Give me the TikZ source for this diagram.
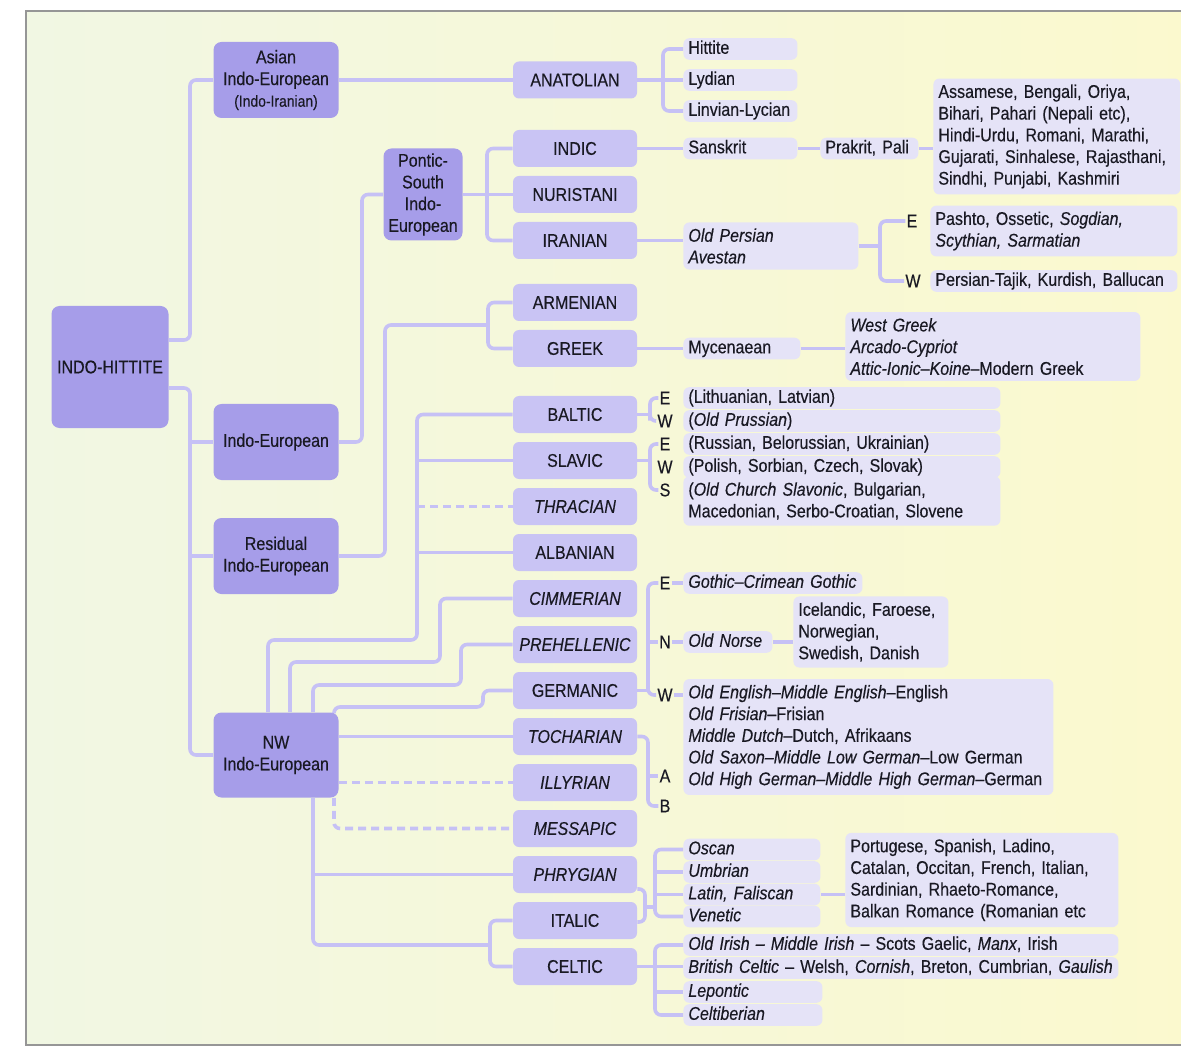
\documentclass[tikz,border=0pt]{standalone}
\usepackage{fontspec}
\setmainfont{Liberation Sans}[FakeStretch=0.87, FakeBold=0.3]
\usepackage{xcolor}
\usepackage{tikz}
\usetikzlibrary{positioning}
\definecolor{ihdark}{RGB}{166,157,233}
\definecolor{ihmid}{RGB}{201,196,244}
\definecolor{ihleaf}{RGB}{229,227,247}
\definecolor{ihline}{RGB}{198,193,245}
\definecolor{bgleft}{RGB}{241,247,227}
\definecolor{bgright}{RGB}{251,249,206}
\definecolor{framegray}{RGB}{150,150,150}
\definecolor{inkgray}{RGB}{25,25,35}

\tikzset{
  txt/.style={font=\fontsize{9.2}{10.85}\selectfont, text=inkgray},
  mainbox/.style={txt, fill=ihdark, rounded corners=4pt, align=center, inner sep=0pt,
                  minimum width=62.5pt, minimum height=38pt},
  grpbox/.style={txt, fill=ihmid, rounded corners=3pt, inner sep=0pt,
                 minimum width=62pt, minimum height=18.5pt},
  leaf/.style={txt, fill=ihleaf, rounded corners=3pt, anchor=west, align=left,
               inner xsep=2.5pt, inner ysep=1pt, text height=6.8pt, text depth=2pt},
  leafm/.style={txt, fill=ihleaf, rounded corners=3pt, anchor=west, align=left,
                inner xsep=2.5pt, inner ysep=3pt},
  letter/.style={txt, inner sep=0.5pt},
  link/.style={draw=ihline, line width=1.8pt, rounded corners=3pt},
  dashlink/.style={link, dash pattern=on 4pt off 2.5pt},
}

\begin{document}
\begin{tikzpicture}[x=0.5pt,y=-0.5pt]
  \useasboundingbox (0,0) rectangle (1181,1047);
  %% Page and panel
  \fill[white] (0,0) rectangle (1181,1047);
  \fill[left color=bgleft, right color=bgright] (26,11) rectangle (1195,1045);
  \draw[framegray, line width=0.8pt] (1195,11) -- (26,11) -- (26,1045) -- (1195,1045);

  %% Main branches
  \node[mainbox, minimum width=58.5pt, minimum height=61pt] (ih) at (110,367) {INDO-HITTITE};
  \node[mainbox] (asia) at (276,80) {Asian\\Indo-European\\{\fontsize{8}{9}\selectfont (Indo-Iranian)}};
  \node[mainbox] (ie) at (276,442) {Indo-European};
  \node[mainbox] (res) at (276,556) {Residual\\Indo-European};
  \node[mainbox, minimum height=42.5pt] (nw) at (276,755) {NW\\Indo-European};
  \node[mainbox, minimum width=39.5pt, minimum height=46pt] (pon) at (423,194.5) {Pontic-\\South\\Indo-\\European};

  %% Language groups
  \foreach \n/\y/\t in {ana/80/ANATOLIAN, ind/148.5/INDIC, nur/194.5/NURISTANI, ira/240.5/IRANIAN,
                        arm/302.5/ARMENIAN, gre/348.5/GREEK, bal/414.5/BALTIC, sla/460.5/SLAVIC,
                        thr/506.5/{\textit{THRACIAN}}, alb/552.5/ALBANIAN, cim/598.5/{\textit{CIMMERIAN}},
                        pre/644.5/{\textit{PREHELLENIC}}, ger/690.5/GERMANIC, toc/736.5/{\textit{TOCHARIAN}},
                        ill/782.5/{\textit{ILLYRIAN}}, mes/828.5/{\textit{MESSAPIC}}, phr/874.5/{\textit{PHRYGIAN}},
                        ita/920.5/ITALIC, cel/966.5/CELTIC}{
    \node[grpbox] (\n) at (575,\y) {\t};
  }

  %% Anatolian, Indic, Iranian
  \node[leaf, text width=52pt] (hit) at (683,49) {Hittite};
  \node[leaf, text width=52pt] (lyd) at (683,80) {Lydian};
  \node[leaf, text width=52pt] (lyc) at (683,111) {Linvian-Lycian};
  \node[leaf, text width=52pt] (skt) at (683,148.5) {Sanskrit};
  \node[leaf, text width=44pt] (pra) at (820,148.5) {Prakrit, Pali};
  \node[leafm, text width=118.5pt] (inl) at (933,136.5) {Assamese, Bengali, Oriya,\\Bihari, Pahari (Nepali etc),\\Hindi-Urdu, Romani, Marathi,\\Gujarati, Sinhalese, Rajasthani,\\Sindhi, Punjabi, Kashmiri};
  \node[leafm, text width=82.5pt] (ops) at (683,246) {\textit{Old Persian}\\\textit{Avestan}};
  \node[letter] (irE) at (912,221) {E};
  \node[letter] (irW) at (913,281) {W};
  \node[leafm, text width=118.5pt] (pas) at (930,231) {Pashto, Ossetic, \textit{Sogdian,}\\\textit{Scythian, Sarmatian}};
  \node[leaf, text width=118.5pt] (per) at (930,281) {Persian-Tajik, Kurdish, Ballucan};

  %% Greek, Baltic, Slavic
  \node[leaf, text width=53.5pt] (myc) at (683,348.5) {Mycenaean};
  \node[leafm, text width=142.5pt] (grk) at (845,346.5) {\textit{West Greek}\\\textit{Arcado-Cypriot}\\\textit{Attic-Ionic--Koine}--Modern Greek};
  \node[letter] (balE) at (665,398) {E};
  \node[letter] (balW) at (665,421) {W};
  \node[leaf, text width=153.5pt] (lit) at (683,398) {(Lithuanian, Latvian)};
  \node[leaf, text width=153.5pt] (pru) at (683,421) {(\textit{Old Prussian})};
  \node[letter] (slaE) at (665,444) {E};
  \node[letter] (slaW) at (665,467) {W};
  \node[letter] (slaS) at (665,490) {S};
  \node[leaf, text width=153.5pt] (rus) at (683,444) {(Russian, Belorussian, Ukrainian)};
  \node[leaf, text width=153.5pt] (pol) at (683,467) {(Polish, Sorbian, Czech, Slovak)};
  \node[leafm, text width=153.5pt] (ocs) at (683,501) {(\textit{Old Church Slavonic}, Bulgarian,\\Macedonian, Serbo-Croatian, Slovene};

  %% Germanic, Tocharian
  \node[letter] (gerE) at (665,583) {E};
  \node[letter] (gerN) at (665,642) {N};
  \node[letter] (gerW) at (665,695) {W};
  \node[leaf, text width=84.5pt] (got) at (683,583) {\textit{Gothic--Crimean Gothic}};
  \node[leaf, text width=39.5pt] (nor) at (683,642) {\textit{Old Norse}};
  \node[leafm, text width=72.5pt] (nrd) at (793,632) {Icelandic, Faroese,\\Norwegian,\\Swedish, Danish};
  \node[leafm, text width=180pt] (wgm) at (683,737) {\textit{Old English--Middle English}--English\\\textit{Old Frisian}--Frisian\\\textit{Middle Dutch}--Dutch, Afrikaans\\\textit{Old Saxon--Middle Low German}--Low German\\\textit{Old High German--Middle High German}--German};
  \node[letter] (tocA) at (665,776) {A};
  \node[letter] (tocB) at (665,806) {B};

  %% Italic, Celtic
  \node[leaf, text width=63.5pt] (osc) at (683,849.5) {\textit{Oscan}};
  \node[leaf, text width=63.5pt] (umb) at (683,872) {\textit{Umbrian}};
  \node[leaf, text width=63.5pt] (lat) at (683,894.5) {\textit{Latin, Faliscan}};
  \node[leaf, text width=63.5pt] (ven) at (683,916.5) {\textit{Venetic}};
  \node[leafm, text width=131.5pt] (rom) at (845,880) {Portugese, Spanish, Ladino,\\Catalan, Occitan, French, Italian,\\Sardinian, Rhaeto-Romance,\\Balkan Romance (Romanian etc};
  \node[leaf, text width=212.5pt] (oir) at (683,945) {\textit{Old Irish -- Middle Irish} -- Scots Gaelic, \textit{Manx}, Irish};
  \node[leaf, text width=212.5pt] (brc) at (683,968) {\textit{British Celtic} -- Welsh, \textit{Cornish}, Breton, Cumbrian, \textit{Gaulish}};
  \node[leaf, text width=64.5pt] (lep) at (683,992) {\textit{Lepontic}};
  \node[leaf, text width=64.5pt] (clb) at (683,1015) {\textit{Celtiberian}};

  %% Trunk from Indo-Hittite
  \coordinate (t1) at (190,340);
  \coordinate (t2) at (190,388);
  \draw[link] (ih.east |- t1) -- (t1) |- (asia.west);
  \draw[link] (ih.east |- t2) -- (t2) |- (nw.west);
  \draw[link] (ie.west -| t2) -- (ie.west);
  \draw[link] (res.west -| t2) -- (res.west);
  \draw[link] (asia.east) -- (ana.west);

  %% Indo-European and Residual
  \coordinate (t3) at (362,442);
  \draw[link] (ie.east) -- (t3) |- (pon.west);
  \coordinate (t4) at (487,194.5);
  \draw[link] (ind.west) -| (t4) |- (ira.west);
  \draw[link] (pon.east) -- (nur.west);
  \coordinate (t5) at (385,325);
  \coordinate (t6) at (488,325);
  \draw[link] (res.east) -| (t5) -- (t6);
  \draw[link] (arm.west) -| (t6) |- (gre.west);

  %% NW Indo-European
  \coordinate (b0) at (268,640); \coordinate (b1) at (417,640);
  \draw[link] (nw.north -| b0) -- (b0) -- (b1) |- (bal.west);
  \draw[link] (sla.west -| b1) -- (sla.west);
  \draw[dashlink] (thr.west -| b1) -- (thr.west);
  \draw[link] (alb.west -| b1) -- (alb.west);
  \coordinate (c0) at (290,662); \coordinate (c1) at (440,662);
  \draw[link] (nw.north -| c0) -- (c0) -- (c1) |- (cim.west);
  \coordinate (p0) at (313,685); \coordinate (p1) at (461,685);
  \draw[link] (nw.north -| p0) -- (p0) -- (p1) |- (pre.west);
  \coordinate (g0) at (334,707); \coordinate (g1) at (483,707);
  \draw[link] (nw.north -| g0) -- (g0) -- (g1) |- (ger.west);
  \draw[link] (toc.west -| nw.east) -- (toc.west);
  \draw[dashlink] (ill.west -| nw.east) -- (ill.west);
  \coordinate (m0) at (334,828.5);
  \draw[dashlink] (nw.south -| m0) -- (m0) -- (mes.west);
  \coordinate (q0) at (313,945); \coordinate (q1) at (490,945);
  \draw[link] (nw.south -| q0) -- (q0) -- (q1);
  \draw[link] (phr.west -| q0) -- (phr.west);
  \draw[link] (ita.west) -| (q1) |- (cel.west);

  %% Anatolian, Indic, Iranian links
  \coordinate (anaK) at (663,80);
  \draw[link] (hit.west) -| (anaK) |- (lyc.west);
  \draw[link] (ana.east) -- (lyd.west);
  \draw[link] (ind.east) -- (skt.west);
  \draw[link] (skt.east) -- (pra.west);
  \draw[link] (pra.east) -- (pra.east -| inl.west);
  \draw[link] (ira.east) -- (ira.east -| ops.west);
  \coordinate (iraK) at (880,246);
  \draw[link] (ops.east |- iraK) -- (iraK);
  \draw[link] (irE.west) -| (iraK) |- (irW.west);

  %% Greek, Baltic, Slavic links
  \draw[link] (gre.east) -- (myc.west);
  \draw[link] (myc.east) -- (myc.east -| grk.west);
  \coordinate (balK) at (650,414.5);
  \draw[link] (balE.west) -| (balK) |- (balW.west);
  \draw[link] (bal.east) -- (balK);
  \coordinate (slaK) at (650,460.5);
  \draw[link] (slaE.west) -| (slaK) |- (slaS.west);
  \draw[link] (sla.east) -- (slaK);

  %% Germanic, Tocharian links
  \coordinate (gerK) at (648,695);
  \draw[link] (gerE.west) -| (gerK) -- (gerW.west);
  \draw[link] (gerN.west -| gerK) -- (gerN.west);
  \draw[link] (ger.east) -- (ger.east -| gerK);
  \draw[link] (gerE.east) -- (got.west);
  \draw[link] (gerN.east) -- (nor.west);
  \draw[link] (nor.east) -- (nor.east -| nrd.west);
  \draw[link] (gerW.east) -- (gerW.east -| wgm.west);
  \coordinate (tocK) at (648,806);
  \draw[link] (toc.east) -| (tocK) -- (tocB.west);
  \draw[link] (tocA.west -| tocK) -- (tocA.west);

  %% Italic, Celtic links
  \coordinate (itaK) at (655,883);
  \draw[link] (osc.west) -| (itaK) |- (ven.west);
  \draw[link] (umb.west -| itaK) -- (umb.west);
  \draw[link] (lat.west -| itaK) -- (lat.west);
  \coordinate (pj1) at (645,889); \coordinate (pj2) at (645,922);
  \draw[link] (phr.east |- pj1) -- (pj1) -- (pj2) -- (ita.east |- pj2);
  \coordinate (pj) at (645,907);
  \draw[link] (pj) -- (pj -| itaK);
  \draw[link] (lat.east) -- (lat.east -| rom.west);
  \coordinate (celK) at (655,967);
  \draw[link] (oir.west) -| (celK) |- (clb.west);
  \draw[link] (cel.east) -- (cel.east -| brc.west);
  \draw[link] (lep.west -| celK) -- (lep.west);
\end{tikzpicture}
\end{document}
